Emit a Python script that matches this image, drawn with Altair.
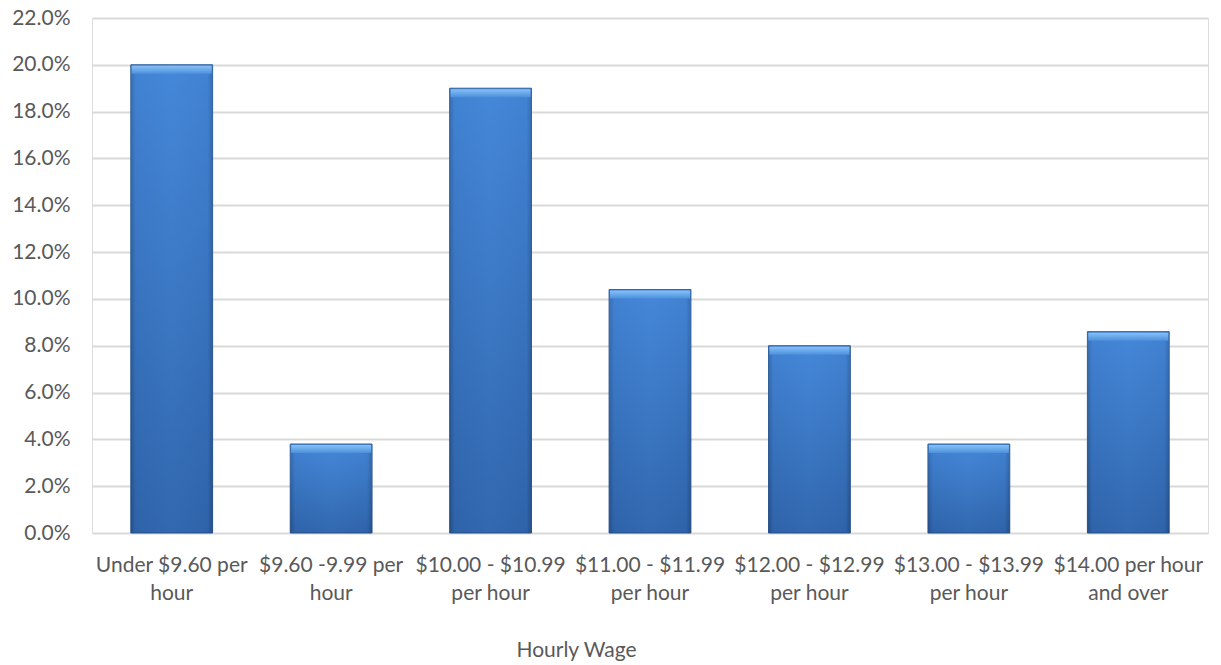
import altair as alt
import pandas as pd

# Hourly wage bands, split into the two lines shown under each bar
LINE1 = ["Under $9.60 per", "$9.60 -9.99 per", "$10.00 - $10.99", "$11.00 - $11.99",
         "$12.00 - $12.99", "$13.00 - $13.99", "$14.00 per hour"]
LINE2 = ["hour", "hour", "per hour", "per hour", "per hour", "per hour", "and over"]
# Share of workers in each band (percent)
SHARE = [20.0, 3.8, 19.0, 10.4, 8.0, 3.8, 8.6]
# Y axis ticks (percent)
Y_TICKS = [0, 2, 4, 6, 8, 10, 12, 14, 16, 18, 20, 22]

CATS = [a + " " + b for a, b in zip(LINE1, LINE2)]
df = pd.DataFrame({"wage": CATS, "share": [v / 100 for v in SHARE]})

label_map = "{" + ", ".join(
    "'" + c + "': ['" + a + "', '" + b + "']" for c, a, b in zip(CATS, LINE1, LINE2)
) + "}"

FONT = "Lato"
TEXT = "#595959"
W, H = 1116, 515

x_enc = alt.X(
    "wage:N",
    sort=CATS,
    scale=alt.Scale(paddingInner=0.487, paddingOuter=0.2435),
    axis=alt.Axis(
        title="Hourly Wage",
        labelAngle=0,
        labelExpr=label_map + "[datum.label]",
        labelFont=FONT,
        labelFontSize=21,
        labelColor=TEXT,
        labelLineHeight=28,
        labelPadding=21,
        labelBaseline="top",
        domain=False,
        ticks=False,
        titleFont=FONT,
        titleFontSize=21,
        titleFontWeight="normal",
        titleColor=TEXT,
        titleX=484,
        titleY=117,
        titleAlign="center",
        titleBaseline="middle",
    ),
)
x_plain = alt.X("wage:N", sort=CATS)
y_enc = alt.Y(
    "share:Q",
    scale=alt.Scale(domain=[0, 0.22], nice=False),
    axis=alt.Axis(
        title=None,
        values=[t / 100 for t in Y_TICKS],
        format=".1%",
        labelFont=FONT,
        labelFontSize=21,
        labelColor=TEXT,
        labelPadding=22,
        domain=False,
        ticks=False,
        gridColor="#d9d9d9",
        gridWidth=2,
    ),
)

base = alt.Chart(df)

# Bar body: darker side edges
body = base.mark_bar(
    fill=alt.Gradient(
        gradient="linear", x1=0, x2=1, y1=0, y2=0,
        stops=[
            alt.GradientStop(offset=0, color="#2c5892"),
            alt.GradientStop(offset=0.06, color="#3a78c6"),
            alt.GradientStop(offset=0.5, color="#3f80cf"),
            alt.GradientStop(offset=0.94, color="#3a78c6"),
            alt.GradientStop(offset=1, color="#2c5892"),
        ],
    ),
    stroke="#2b5690",
    strokeWidth=1,
).encode(x=x_enc, y=y_enc)

# Vertical shading: lighter at the top, darker toward the base
shade = base.mark_bar(
    fill=alt.Gradient(
        gradient="linear", x1=0, x2=0, y1=0, y2=1,
        stops=[
            alt.GradientStop(offset=0, color="rgba(80,150,235,0.35)"),
            alt.GradientStop(offset=1, color="rgba(25,60,115,0.35)"),
        ],
    ),
).encode(x=x_plain, y="share:Q")

# Bevel highlight along the top edge of every bar
bevel = base.mark_tick(
    thickness=8,
    size=80,
    yOffset=5,
    fill=alt.Gradient(
        gradient="linear", x1=0, x2=0, y1=0, y2=1,
        stops=[
            alt.GradientStop(offset=0, color="#86c2f7"),
            alt.GradientStop(offset=1, color="#4d8fdc"),
        ],
    ),
    opacity=1,
).encode(x=x_plain, y="share:Q")

chart = (
    alt.layer(body, shade, bevel)
    .properties(width=W, height=H, autosize=alt.AutoSizeParams(type="none"),
                padding={"left": 92, "top": 18, "right": 13, "bottom": 132})
    .configure_view(stroke=None)
    .configure(background="white")
)

chart.save("out.html", embed_options={"renderer": "svg", "actions": False})
